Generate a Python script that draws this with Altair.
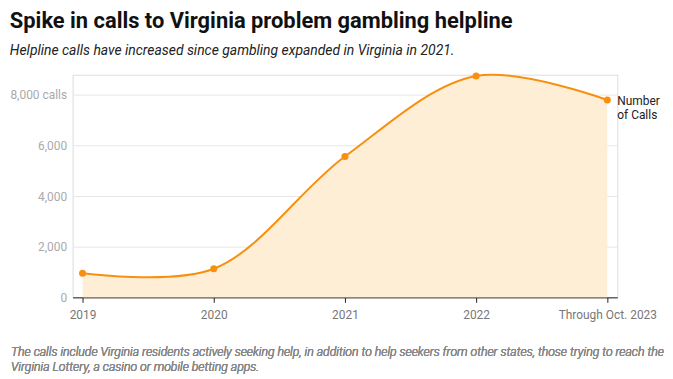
import altair as alt
import pandas as pd

categories = ["2019", "2020", "2021", "2022", "Through Oct. 2023"]
calls = [950, 1130, 5570, 8750, 7800]
series_label = ["Number", "of Calls"]
title_text = "Spike in calls to Virginia problem gambling helpline"
subtitle_text = "Helpline calls have increased since gambling expanded in Virginia in 2021."
footer_lines = [
    "The calls include Virginia residents actively seeking help, in addition to help seekers from other states, those trying to reach the",
    "Virginia Lottery, a casino or mobile betting apps.",
]

df = pd.DataFrame({"idx": list(range(len(categories))), "cat": categories, "calls": calls})

W, H = 548, 224
LINE = "#f7900f"
FILL = "#feeed6"
FONT = "Roboto"
INTERP = "catmull-rom"

label_expr = "[" + ",".join("'" + c + "'" for c in categories) + "][datum.value]"

x = alt.X("idx:Q",
          scale=alt.Scale(domain=[-0.076, 4.076], nice=False, zero=False),
          axis=alt.Axis(values=list(range(len(categories))), labelExpr=label_expr,
                        grid=False, domainColor="#222", tickColor="#222", tickSize=5,
                        labelColor="#777", labelFontSize=12, labelFont=FONT, labelPadding=7,
                        title=None, labelFlush=False))
y = alt.Y("calls:Q",
          scale=alt.Scale(domain=[0, 8800], nice=False),
          axis=alt.Axis(values=[0, 2000, 4000, 6000, 8000], format=",.0f",
                        labelExpr="datum.value == 8000 ? datum.label + ' calls' : datum.label",
                        domain=False, ticks=False, gridColor="#e6e6e6", labelColor="#aaa",
                        labelFontSize=12, labelFont=FONT, labelPadding=6, title=None))

base = alt.Chart(df)
area = base.mark_area(interpolate=INTERP, color=FILL).encode(x=x, y=y)
line = base.mark_line(interpolate=INTERP, color=LINE, strokeWidth=2).encode(x=x, y=y)
pts = base.mark_circle(color=LINE, size=50, opacity=1).encode(x=x, y=y)
lab = alt.Chart(df.tail(1)).mark_text(text=series_label, align="left", baseline="top",
                                      dx=10, dy=-4, lineHeight=14, fontSize=12, font=FONT,
                                      color="#222").encode(x=x, y=y)
foot = base.mark_text(text=footer_lines, align="left", baseline="top", fontSize=12.3,
                      font=FONT, fontStyle="italic", fontWeight=300, color="#888",
                      lineHeight=15).encode(
    x=alt.value(-62), y=alt.value(H + 49))

chart = alt.layer(area, line, pts, lab, foot).properties(
    width=W, height=H,
    title=alt.TitleParams(text=title_text, subtitle=subtitle_text, anchor="start",
                          font=FONT, fontSize=22, fontWeight="bold", color="#111",
                          subtitleFont=FONT, subtitleFontSize=14, subtitleFontStyle="italic",
                          subtitleColor="#222", subtitlePadding=11, offset=12),
).configure_view(stroke=None).configure(padding={"left": 1, "top": 1, "right": 0, "bottom": 0})

chart.save("out.html", embed_options={"renderer": "svg", "actions": False})
